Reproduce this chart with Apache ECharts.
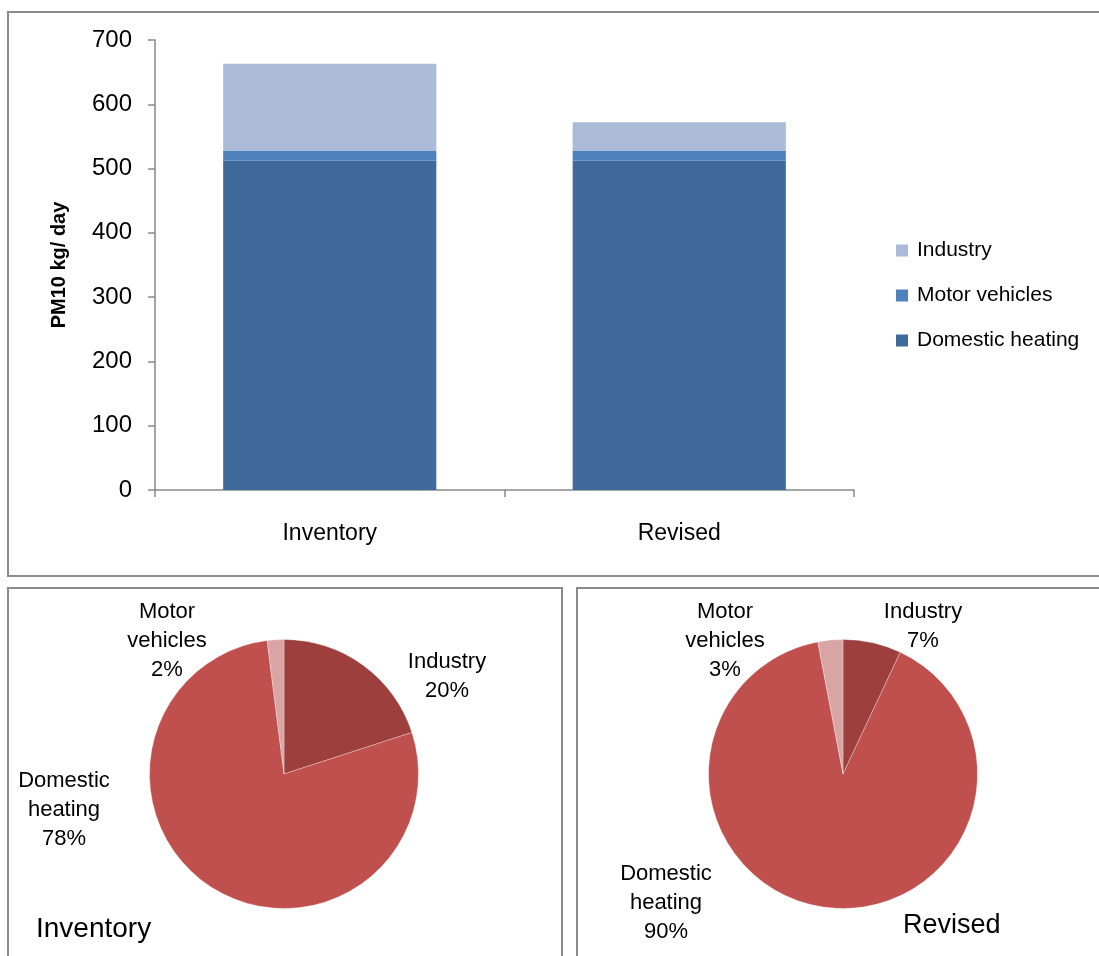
<!DOCTYPE html>
<html>
<head>
<meta charset="utf-8">
<script src="https://cdn.jsdelivr.net/npm/echarts@6/dist/echarts.min.js"></script>
<style>
html,body{margin:0;padding:0;background:#fff;}
#c{width:1099px;height:956px;}
</style>
</head>
<body>
<div id="c"></div>
<script>
// ---- data ----
var categories = ['Inventory', 'Revised'];
var domesticHeating = [512, 512];
var motorVehicles = [16, 16];
var industry = [135, 44];
var yTicks = [0, 100, 200, 300, 400, 500, 600, 700];
var pieNames = ['Industry', 'Domestic heating', 'Motor vehicles'];
var pieInventory = [20, 78, 2];
var pieRevised = [7, 90, 3];
var pieTitles = ['Inventory', 'Revised'];

// ---- layout / style ----
var FONT = 'Liberation Sans, Arial, sans-serif';
var barColors = {ind: '#AABAD7', mot: '#4F81BD', dom: '#40699C'};
var pieColors = {'Industry': '#9C3F3D', 'Domestic heating': '#C0504D', 'Motor vehicles': '#D9A5A4'};
var invLabelPos = [[447, 676], [64, 810], [167, 641]];
var revLabelPos = [[923, 626], [666, 903], [725, 641]];
var boxStroke = '#8a8a8a';

function pieData(vals) {
  return pieNames.map(function (n, i) {
    return {name: n, value: vals[i], itemStyle: {color: pieColors[n]}};
  });
}
function layoutFn(pos) {
  return function (p) {
    var q = pos[p.dataIndex];
    return {x: q[0], y: q[1], align: 'center', verticalAlign: 'middle'};
  };
}

var chart = echarts.init(document.getElementById('c'));
chart.setOption({
  animation: false,
  backgroundColor: '#fff',
  textStyle: {fontFamily: FONT},
  graphic: [
    {type: 'rect', shape: {x: 8, y: 12, width: 1200, height: 564}, style: {fill: 'none', stroke: boxStroke, lineWidth: 2}, z: -1},
    {type: 'rect', shape: {x: 8, y: 588, width: 554, height: 500}, style: {fill: 'none', stroke: boxStroke, lineWidth: 2}, z: -1},
    {type: 'rect', shape: {x: 577, y: 588, width: 600, height: 500}, style: {fill: 'none', stroke: boxStroke, lineWidth: 2}, z: -1},
    {type: 'text', x: 36, y: 929, style: {text: pieTitles[0], font: '28px ' + FONT, fill: '#000', textVerticalAlign: 'middle'}},
    {type: 'text', x: 903, y: 926, style: {text: pieTitles[1], font: '27px ' + FONT, fill: '#000', textVerticalAlign: 'middle'}}
  ],
  legend: {
    orient: 'vertical',
    left: 896,
    top: 240,
    padding: 0,
    itemWidth: 12,
    itemHeight: 12,
    itemGap: 24,
    icon: 'rect',
    data: ['Industry', 'Motor vehicles', 'Domestic heating'],
    textStyle: {fontSize: 21, color: '#000', fontFamily: FONT, padding: [0, 0, 0, 4]}
  },
  grid: {left: 155, right: 245, top: 40, bottom: 466, containLabel: false},
  xAxis: {
    type: 'category',
    data: categories,
    axisLine: {lineStyle: {color: '#898989', width: 1.5}},
    axisTick: {show: true, length: 7, lineStyle: {color: '#898989', width: 1.5}},
    axisLabel: {fontSize: 23, color: '#000', margin: 32, fontFamily: FONT}
  },
  yAxis: {
    type: 'value',
    min: 0, max: 700, interval: 100,
    name: 'PM10 kg/ day',
    nameLocation: 'middle',
    nameRotate: 90,
    nameGap: 86,
    nameTextStyle: {fontSize: 20, fontWeight: 'bold', color: '#000', fontFamily: FONT},
    splitLine: {show: false},
    axisLine: {show: true, lineStyle: {color: '#898989', width: 1.5}},
    axisTick: {show: true, length: 7, lineStyle: {color: '#898989', width: 1.5}},
    axisLabel: {fontSize: 24, color: '#000', margin: 23, fontFamily: FONT,
      formatter: function (v) { return yTicks.indexOf(v) >= 0 ? String(v) : ''; }}
  },
  series: [
    {name: 'Domestic heating', type: 'bar', stack: 's', data: domesticHeating, barWidth: '61%', itemStyle: {color: barColors.dom}},
    {name: 'Motor vehicles', type: 'bar', stack: 's', data: motorVehicles, barWidth: '61%', itemStyle: {color: barColors.mot}},
    {name: 'Industry', type: 'bar', stack: 's', data: industry, barWidth: '61%', itemStyle: {color: barColors.ind}},
    {
      type: 'pie', center: [284, 774], radius: 134.5, startAngle: 90, clockwise: true,
      data: pieData(pieInventory), legendHoverLink: false,
      itemStyle: {borderColor: '#fff', borderWidth: 0.3},
      label: {show: true, position: 'outside', color: '#000', fontSize: 22, lineHeight: 29, fontFamily: FONT,
        formatter: function (p) { return p.name.replace(' ', '\n') + '\n' + p.percent + '%'; }},
      labelLine: {show: false},
      labelLayout: layoutFn(invLabelPos)
    },
    {
      type: 'pie', center: [843, 774], radius: 134.5, startAngle: 90, clockwise: true,
      data: pieData(pieRevised), legendHoverLink: false,
      itemStyle: {borderColor: '#fff', borderWidth: 0.3},
      label: {show: true, position: 'outside', color: '#000', fontSize: 22, lineHeight: 29, fontFamily: FONT,
        formatter: function (p) { return p.name.replace(' ', '\n') + '\n' + p.percent + '%'; }},
      labelLine: {show: false},
      labelLayout: layoutFn(revLabelPos)
    }
  ]
});
</script>
</body>
</html>
